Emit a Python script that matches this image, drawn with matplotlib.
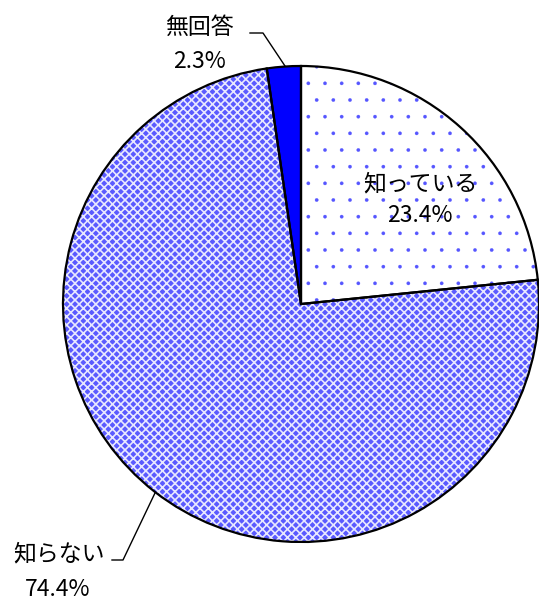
import matplotlib.pyplot as plt

plt.rcParams['font.family'] = ['Noto Sans CJK JP', 'DejaVu Sans']

# Data
labels = ['知っている', '知らない', '無回答']
values = [23.4, 74.4, 2.3]
pct_text = ['23.4%', '74.4%', '2.3%']

fig = plt.figure(figsize=(5.39, 6.03), dpi=100)
ax = fig.add_axes([0, 0, 1, 1])
ax.set_xlim(0, 539)
ax.set_ylim(0, 603)
ax.set_aspect('equal')
ax.axis('off')

center = (301, 299)
radius = 238

# base fill + hatch layer
wedges, _ = ax.pie(values, startangle=90, counterclock=False, center=center,
                   radius=radius, colors=['white', '#5a5aff', '#0000ff'],
                   wedgeprops=dict(linewidth=0))
wedges[0].set_hatch('.')
wedges[0].set_edgecolor('#5555ff')
wedges[0].set_hatch_linewidth(0.2)
wedges[1].set_hatch('xxxx')
wedges[1].set_edgecolor('#e8e8ff')
wedges[1].set_hatch_linewidth(1.2)

# outlines
ax.pie(values, startangle=90, counterclock=False, center=center, radius=radius,
       colors=['none'] * 3, wedgeprops=dict(linewidth=1.6, edgecolor='black'))

ax.set_xlim(0, 539)
ax.set_ylim(0, 603)

fs = 16.5
# 知っている (inside)
ax.text(420, 603 - 184, labels[0], fontsize=fs, ha='center', va='center')
ax.text(420, 603 - 216, pct_text[0], fontsize=fs, ha='center', va='center')

# 知らない
ax.text(59, 603 - 554, labels[1], fontsize=fs, ha='center', va='center')
ax.text(58, 603 - 590, pct_text[1], fontsize=fs, ha='center', va='center')
ax.plot([112, 123, 155], [603 - 560, 603 - 560, 603 - 493], color='black', lw=1)

# 無回答
ax.text(199, 603 - 27, labels[2], fontsize=fs, ha='center', va='center')
ax.text(199, 603 - 61, pct_text[2], fontsize=fs, ha='center', va='center')
ax.plot([250, 263, 285], [603 - 33, 603 - 33, 603 - 66], color='black', lw=1)

fig.savefig('out.png', dpi=100)
